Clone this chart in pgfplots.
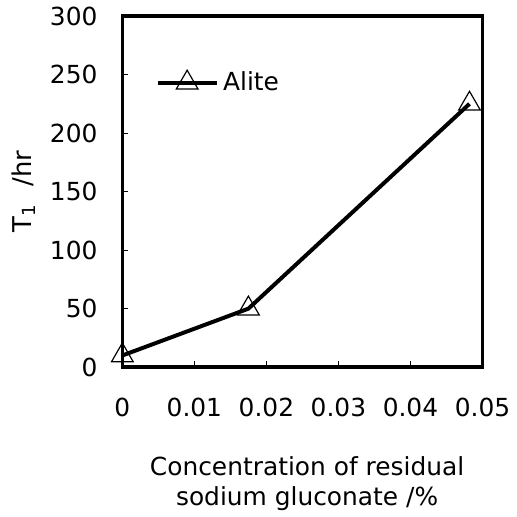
\documentclass[border=0pt]{standalone}
\usepackage{pgfplots}
\pgfplotsset{compat=1.18}
\usepackage{fontspec}
\setmainfont{DejaVu Sans}
\begin{document}
\begin{tikzpicture}
\begin{axis}[
    scale only axis,
    width=181pt,
    height=176.5pt,
    xmin=0, xmax=0.05,
    ymin=0, ymax=300,
    xtick={0,0.01,0.02,0.03,0.04,0.05},
    xticklabels={0,0.01,0.02,0.03,0.04,0.05},
    scaled x ticks=false,
    ytick={0,50,100,150,200,250,300},
    /pgf/number format/assume math mode=true,
    tick align=inside,
    major tick length=3pt,
    tick pos=left,
    axis line style={line width=1.8pt},
    tick style={line width=0.5pt, black},
    ticklabel style={font=\fontsize{12.5}{14}\selectfont},
    xticklabel style={yshift=-12pt},
    yticklabel style={xshift=-9pt},
    xlabel={Concentration of residual\\sodium gluconate /\%},
    xlabel style={font=\fontsize{12.5}{15}\selectfont, align=center,
        at={(axis description cs:0.513,-0.331)}, anchor=center},
    ylabel={T\textsubscript{1}\hspace{9pt}/hr},
    ylabel style={font=\fontsize{13}{15}\selectfont,
        at={(axis description cs:-0.274,0.5)}, anchor=center},
    legend style={draw=none, fill=none, font=\fontsize{12.5}{14}\selectfont,
        at={(axis description cs:0.075,0.81)}, anchor=west},
    legend cell align=left,
    legend image code/.code={
        \draw[mark repeat=2,mark phase=2,#1]
            plot coordinates {(0cm,0cm)(0.52cm,0cm)(1.05cm,0cm)};},
    clip=false,
]
\addplot[black, line width=2pt, mark=triangle,
    mark size=6.3pt,
    mark options={fill=white, line width=0.6pt, solid}]
    coordinates {(0,10) (0.0175,50) (0.0482,225)};
\addlegendentry{Alite}
\end{axis}
\useasboundingbox (-61.5pt,-74.5pt) rectangle (194.5pt,184pt);
\end{tikzpicture}
\end{document}
